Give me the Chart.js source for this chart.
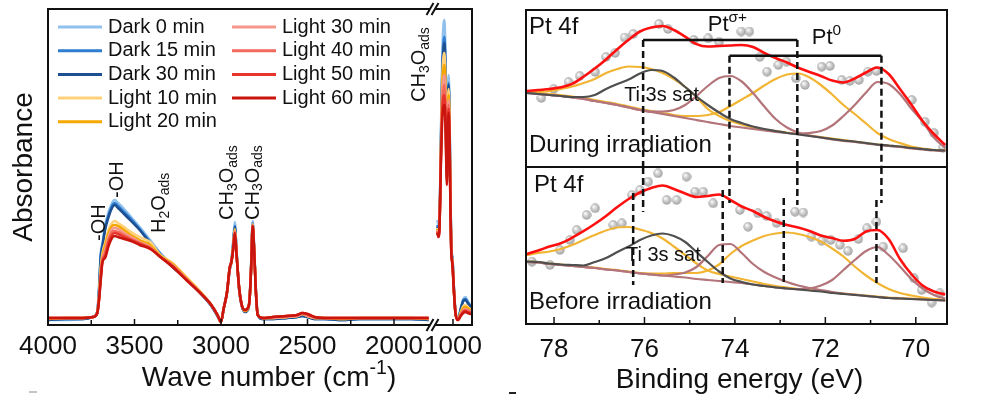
<!DOCTYPE html>
<html>
<head>
  <title>In situ FTIR and Pt 4f XPS</title>
  <meta charset="UTF-8">
  <script src="https://cdn.jsdelivr.net/npm/chart.js"></script>
  <style>
    body {
      margin: 0;
      background: #fff;
    }
    #wrap {
      position: relative;
      width: 986px;
      height: 398px;
    }
    #wrap canvas {
      position: absolute;
      left: 0;
      top: 0;
    }
  </style>
</head>
<body>
  <div id="wrap">
    <canvas id="irMain" width="986" height="398"></canvas>
    <canvas id="irSide" width="986" height="398"></canvas>
    <canvas id="xpsTop" width="986" height="398"></canvas>
    <canvas id="xpsBottom" width="986" height="398"></canvas>
  </div>

  <script>
    const FONT = '"Liberation Sans", Arial, Helvetica, sans-serif';

    // ---------- FTIR (absorbance, arbitrary units) ----------
    const wnMain = [4000, 3900, 3800, 3740, 3715, 3705, 3695, 3685, 3670, 3650, 3630, 3615, 3595, 3560, 3520, 3470, 3410, 3350, 3280, 3200, 3120, 3060, 3020, 3000, 2985, 2965, 2950, 2940, 2930, 2920, 2910, 2895, 2880, 2862, 2845, 2835, 2825, 2817, 2808, 2798, 2788, 2760, 2700, 2620, 2560, 2530, 2500, 2460, 2400, 2300, 2200, 2100, 2000, 1900, 1800];
    const dark0Main  = [5,5,6,8,14,40,72,82,100,113,122,125,122,116,108,98,85,72,60,47,33,21,10,3,16,34,57,65,84,103,75,36,20,14,16,26,66,104,78,35,12,6,6,7,8,10,8,6,6,5,6,6,6,6,5];
    const dark15Main = [5,6,6,8,13,35,70,80,97,110,119,122,119,113,106,96,83,71,59,46,32,20,9,3,16,33,55,63,80,99,73,35,19,13,15,25,63,102,75,33,11,6,6,7,8,9,8,6,6,5,6,6,6,6,5];
    const dark30Main = [5,6,6,8,13,33,68,78,95,108,117,120,117,111,104,95,82,70,58,46,32,20,9,3,16,33,55,63,79,98,72,35,19,13,15,25,62,101,74,33,11,6,6,7,8,9,8,6,6,5,6,6,6,6,5];
    const light10Main = [6,7,7,8,13,30,58,72,82,95,102,104,102,98,93,88,83,70,62,48,34,21,10,3,16,33,56,63,78,96,72,36,20,14,16,25,62,101,74,33,11,7,7,8,9,11,9,7,7,6,7,7,7,7,6];
    const light20Main = [6,7,7,8,13,28,55,69,79,92,99,100,99,95,90,85,80,69,61,47,33,21,10,3,16,33,56,63,77,95,71,36,20,14,16,25,61,100,74,33,11,7,7,8,9,11,9,7,7,6,7,7,7,7,6];
    const light30Main = [7,7,7,8,12,27,52,67,75,88,96,97,96,92,88,83,78,68,60,46,33,21,10,3,16,33,57,63,76,94,71,37,20,15,17,25,61,100,73,32,10,7,7,8,9,11,9,7,7,7,7,7,7,7,7];
    const light40Main = [7,7,7,8,12,26,49,65,72,85,93,94,93,90,86,82,77,68,59,46,32,21,10,3,16,33,57,63,76,93,70,37,20,15,17,25,60,99,73,32,10,7,8,9,10,12,10,8,7,7,7,7,7,7,7];
    const light50Main = [7,7,7,8,12,25,47,64,69,82,90,92,91,88,85,81,77,68,59,45,32,21,10,3,16,33,57,63,75,92,70,37,20,15,17,25,60,99,73,32,10,7,8,9,10,12,11,8,7,7,7,7,7,7,7];
    const light60Main = [7,7,7,8,12,25,45,63,67,79,87,89,88,86,84,80,76,68,58,45,32,21,10,3,16,33,57,63,75,92,70,37,20,15,17,25,60,99,73,32,10,7,8,9,10,12,11,8,7,7,7,7,7,7,7];

    const wnSide = [1091, 1084, 1078, 1070, 1062, 1055, 1050, 1045, 1040, 1035, 1030, 1025, 1020, 1015, 1010, 1003, 995, 985, 970, 955, 940, 928, 915, 900, 890];
    const dark0Side   = [105,100,108,190,270,300,305,285,225,185,230,250,215,140,80,68,40,12,6,17,26,28,24,20,18];
    const dark15Side  = [100,96,104,180,255,282,288,270,215,178,222,242,208,135,78,66,38,12,6,16,25,26,23,19,17];
    const dark30Side  = [98,95,102,175,250,276,282,265,212,175,220,240,206,133,77,65,37,12,6,16,24,25,22,19,17];
    const light10Side = [97,93,100,172,245,268,272,255,205,168,215,236,202,130,76,64,36,11,6,13,19,20,18,16,15];
    const light20Side = [96,92,100,170,238,256,260,245,198,162,210,230,198,128,75,63,36,11,6,12,17,18,17,15,14];
    const light30Side = [95,91,99,168,230,246,250,236,190,156,205,225,194,126,75,62,35,11,5,11,15,16,15,14,13];
    const light40Side = [94,90,99,166,222,236,240,226,183,150,200,220,190,124,74,62,35,11,5,10,14,15,14,13,12];
    const light50Side = [93,89,98,164,215,228,230,218,176,145,196,216,187,122,74,61,35,11,5,10,13,14,13,12,12];
    const light60Side = [92,88,98,160,205,218,220,210,170,140,192,212,184,120,73,60,35,11,5,9,12,13,12,11,11];

    const irLabels = ['Dark 0 min', 'Dark 15 min', 'Dark 30 min', 'Light 10 min', 'Light 20 min',
                      'Light 30 min', 'Light 40 min', 'Light 50 min', 'Light 60 min'];
    const irColors = ['#8fc1ec', '#2f7dd1', '#1d4f91', '#ffd17a', '#f6a800',
                      '#f5978b', '#f26a5c', '#e8352b', '#c9150d'];
    const irMainSeries = [dark0Main, dark15Main, dark30Main, light10Main, light20Main, light30Main, light40Main, light50Main, light60Main];
    const irSideSeries = [dark0Side, dark15Side, dark30Side, light10Side, light20Side, light30Side, light40Side, light50Side, light60Side];

    const irTicksMain = [4000, 3500, 3000, 2500, 2000];
    const irMinorMain = [3750, 3250, 2750, 2250];
    const irTicksSide = [1000];

    // ---------- XPS Pt 4f (counts, arbitrary units) ----------
    const energy = [78.6, 78.35, 78.1, 77.85, 77.6, 77.35, 77.1, 76.85, 76.6, 76.35, 76.1, 75.85, 75.6, 75.35, 75.1, 74.85, 74.6, 74.35, 74.1, 73.85, 73.6, 73.35, 73.1, 72.85, 72.6, 72.35, 72.1, 71.85, 71.6, 71.35, 71.1, 70.85, 70.6, 70.35, 70.1, 69.85, 69.6, 69.35];

    const duringEnvelope = [76,77,78,79.7,83.1,90.2,98.5,107.6,117.8,127.2,135.5,139.4,141,137,130.3,122.9,120.5,121,121.5,122,120,114,109,104.5,99.3,95,91,86.5,84.5,88.5,94.5,99.5,93,78,62.5,46,33,22];
    const duringPtIon1 = [75,75,76,78,80.5,84,88,94,98,100.5,100,98,94,88,80,70,58,51,46,42.5,39.5,37.5,36,34.5,33,31.5,30,28.5,27,25.5,24,22.5,21.5,20.5,19,18,17,16.5];
    const duringPtIon2 = [75,74,73,72,70.5,69,67,65,63,60.5,58,56,54,52,51,51,52,55,61,67.5,74,81.5,88,92.5,93.5,89.5,82,72.5,62,53,43.5,34,28,24,20.5,18.5,17,16.5];
    const duringPtMet1 = [74,73,72,71,69.5,68,66,64,62,59.5,57,55.5,55.5,57,62,71,81,89,91,85.5,74,60.5,48,39.5,34.5,31.5,29.5,27.5,26,25,23.5,22,21,20,18.5,17.5,16.5,16];
    const duringPtMet2 = [74,73,72,71,69.5,68,66,64,62,59.5,57,55,53,51,49,47,45,43,41,39.5,38,36.5,35,34,33.5,34,36,41.5,51,62,74.5,85,83,73,58.5,45.5,29.5,19];
    const duringTi3s = [74,73,72,71,70,70,72,78,83,87.5,93.5,97,96,89.5,80,70.5,62,54.5,48,44,40.5,38,36,34,32.5,31,29.5,28,26.5,25.5,24,22.5,21.5,20.5,19,18,17,16.5];
    const duringRawE = [78.28,78.01,77.68,77.43,77.09,76.85,76.65,76.44,76.25,75.68,75.48,74.91,74.59,74.35,73.86,73.68,73.45,73.29,73.04,72.86,72.65,72.45,72.08,71.9,71.64,71.46,71.26,71.06,70.87,70.09,69.8,69.6,69.4];
    const duringRawI = [69,78,85,91,95,110,114,129.5,133,143,138,127,128.7,125,135.5,135.5,110,95.3,102,105.3,88.7,82,100.3,101,87,86,87,95.3,96,67,45.3,34,19.5];

    const beforeEnvelope = [70,73.5,77.5,80.8,86.3,92.8,100,108,117,125,131.5,136,138.5,135,130.5,127,128,129.5,124,117.5,113,107,102.5,99,96.5,93,88.5,86,83.3,85,92.5,94,85,65,50,38.5,32.5,29.5];
    const beforePtIon1 = [69,71,72.5,75,79,84,89,93.5,96.5,97,94.5,91,85.5,77.5,69,60.5,53.5,50,47.5,45,42.5,40,38,36.5,35,34,33,31.5,30.5,29.5,28.5,27.5,26.5,26,25.5,25,24.5,24];
    const beforePtIon2 = [62.5,62,60.5,59.5,58.5,57.5,56.5,55,54,52.5,51,50.5,50.5,51,51,51,53.5,59.5,70,78,83.5,88,90.5,91.5,90,87,82.5,75.5,67.5,57.5,48.5,41,35,31,28.5,26.5,25,24];
    const beforePtMet1 = [62,61.5,60,59,58,57,56,54.5,53.5,52,50.5,49.5,48.5,49.5,51.5,57,68,79,80,71,60,52,46.5,42,38.5,36,34,32,30.5,29.3,28.2,27,26,25.5,25,24.5,24,23.5];
    const beforePtMet2 = [62,61.5,60,59,58,57,56,54.5,53.5,52,50.5,49.5,48.5,47.5,46.5,45,44,43,42,41,39.5,38,36.5,35.5,34.8,35.5,38.5,44,54,64,73,77,69,57.5,45,35.5,29,25.5];
    const beforeTi3s = [62.5,62,60.5,59.5,59,58.5,62,66,72,77.5,84,88.5,90.5,88,82,72,62,52.5,45.5,42,39.5,38,36.5,35.5,34.5,33.5,32.5,31,30,29,28,27,26,25.5,25,24.5,24,23.5];
    const beforeRawE = [78.49,78.09,77.87,77.65,77.5,77.28,77.09,76.69,76.5,76.28,76.1,75.92,75.7,75.51,75.29,75.07,74.88,74.7,74.48,73.89,73.71,73.49,73.3,73.08,72.67,72.49,72.31,72.08,71.88,71.68,71.5,71.27,71.08,70.87,70.72,70.28,70.04,69.87,69.65,69.47];
    const beforeRawI = [62.3,59,74,84,94,109,115.7,99,100.7,129,134,142.3,150.7,124,124,147.3,132.3,132.3,120.7,114,97.3,110.7,108,101,112.3,111.5,87.3,83.2,84,79,73,85,95.7,102.3,77.3,75.7,45.7,34,21.5,30.7];

    const xpsTicks = [78, 76, 74, 72, 70];
    const xpsMinor = [77, 75, 73, 71];

    // peak markers: energies of dashed lines
    const duringPeaks = [76.03, 74.12, 72.62, 70.76];
    const beforePeaks = [76.25, 74.27, 72.92, 70.87];

    // ---------- helpers ----------
    function richWidth(ctx, parts, size) {
      let w = 0;
      parts.forEach(p => {
        ctx.font = (p.s ? size * 0.7 : size) + 'px ' + FONT;
        w += ctx.measureText(p.t).width;
      });
      return w;
    }

    function drawRich(ctx, parts, x, y, size, opts) {
      opts = opts || {};
      ctx.save();
      ctx.translate(x, y);
      if (opts.rotate) ctx.rotate(-Math.PI / 2);
      ctx.fillStyle = opts.color || '#111';
      ctx.textBaseline = 'middle';
      ctx.textAlign = 'left';
      let cx = opts.center ? -richWidth(ctx, parts, size) / 2 : 0;
      parts.forEach(p => {
        const fs = p.s ? size * 0.7 : size;
        ctx.font = fs + 'px ' + FONT;
        const dy = p.s < 0 ? size * 0.28 : p.s > 0 ? -size * 0.32 : 0;
        ctx.fillText(p.t, cx, dy);
        cx += ctx.measureText(p.t).width;
      });
      ctx.restore();
    }

    function lineSet(label, color, xs, ys, order, width) {
      return {
        label: label,
        data: xs.map((x, i) => ({ x: x, y: ys[i] })),
        borderColor: color,
        backgroundColor: color,
        borderWidth: width || 2.5,
        pointRadius: 0,
        fill: false,
        cubicInterpolationMode: 'monotone',
        order: order
      };
    }

    function makeSphere(d) {
      const c = document.createElement('canvas');
      c.width = c.height = d;
      const g = c.getContext('2d');
      const r = d / 2;
      const grad = g.createRadialGradient(r * 0.7, r * 0.65, 0.5, r, r, r);
      grad.addColorStop(0, '#fbfbfb');
      grad.addColorStop(0.45, '#cdcdcd');
      grad.addColorStop(1, '#9d9d9d');
      g.fillStyle = grad;
      g.beginPath();
      g.arc(r, r, r - 0.3, 0, Math.PI * 2);
      g.fill();
      return c;
    }
    const sphere = makeSphere(10);

    function rawSet(xs, ys) {
      return {
        data: xs.map((x, i) => ({ x: x, y: ys[i] })),
        showLine: false,
        pointStyle: sphere,
        pointRadius: 5,
        order: 10
      };
    }

    function baseOptions(pad, xMin, xMax, yMax) {
      return {
        responsive: false,
        animation: false,
        events: [],
        layout: { padding: pad },
        plugins: { legend: { display: false }, tooltip: { enabled: false } },
        scales: {
          x: { type: 'linear', reverse: true, min: xMin, max: xMax, display: false },
          y: { min: 0, max: yMax, display: false }
        }
      };
    }

    function drawTicks(ctx, chart, major, minor, majLen, minLen) {
      const xs = chart.scales.x, a = chart.chartArea;
      ctx.beginPath();
      major.forEach(v => {
        const x = xs.getPixelForValue(v);
        ctx.moveTo(x, a.bottom); ctx.lineTo(x, a.bottom - majLen);
      });
      minor.forEach(v => {
        const x = xs.getPixelForValue(v);
        ctx.moveTo(x, a.bottom); ctx.lineTo(x, a.bottom - minLen);
      });
      ctx.stroke();
    }

    function drawTickLabels(ctx, chart, major, dy) {
      const xs = chart.scales.x, a = chart.chartArea;
      ctx.fillStyle = '#111';
      ctx.font = '26px ' + FONT;
      ctx.textAlign = 'center';
      ctx.textBaseline = 'middle';
      major.forEach(v => ctx.fillText(String(v), xs.getPixelForValue(v), a.bottom + dy));
    }

    // ---------- FTIR, main segment ----------
    const irNotes = [
      { parts: [{ t: '-OH' }], wn: 3702, val: 84 },
      { parts: [{ t: '-OH' }], wn: 3601, val: 127 },
      { parts: [{ t: 'H' }, { t: '2', s: -1 }, { t: 'O' }, { t: 'ads', s: -1 }], wn: 3353, val: 92 },
      { parts: [{ t: 'CH' }, { t: '3', s: -1 }, { t: 'O' }, { t: 'ads', s: -1 }], wn: 2965, val: 105 },
      { parts: [{ t: 'CH' }, { t: '3', s: -1 }, { t: 'O' }, { t: 'ads', s: -1 }], wn: 2815, val: 105 },
      { parts: [{ t: 'CH' }, { t: '3', s: -1 }, { t: 'O' }, { t: 'ads', s: -1 }], wn: 1850, val: 223 }
    ];

    const irMainDeco = {
      id: 'irMainDeco',
      afterDraw(chart) {
        const ctx = chart.ctx, a = chart.chartArea, xs = chart.scales.x, ys = chart.scales.y;
        ctx.save();
        ctx.strokeStyle = '#111';
        ctx.lineWidth = 2;
        ctx.beginPath();
        ctx.moveTo(a.right, a.top); ctx.lineTo(a.left, a.top);
        ctx.lineTo(a.left, a.bottom); ctx.lineTo(a.right, a.bottom);
        ctx.stroke();
        ctx.lineWidth = 1.5;
        drawTicks(ctx, chart, irTicksMain, irMinorMain, 6, 5);
        drawTickLabels(ctx, chart, irTicksMain, 22);

        drawRich(ctx, [{ t: 'Wave number (cm' }, { t: '-1', s: 1 }, { t: ')' }], a.left + 221, a.bottom + 53, 28, { center: true });
        drawRich(ctx, [{ t: 'Absorbance' }], a.left - 24, (a.top + a.bottom) / 2, 28, { rotate: true, center: true });

        // legend
        chart.data.datasets.forEach((ds, i) => {
          const col = i < 5 ? 0 : 1, row = i < 5 ? i : i - 5;
          const x0 = a.left + 10 + col * 174, y = a.top + 18 + row * 23.7;
          ctx.strokeStyle = ds.borderColor;
          ctx.lineWidth = 3;
          ctx.beginPath(); ctx.moveTo(x0, y); ctx.lineTo(x0 + 44, y); ctx.stroke();
          drawRich(ctx, [{ t: ds.label }], x0 + 50, y, 20);
        });

        irNotes.forEach(n => {
          drawRich(ctx, n.parts, xs.getPixelForValue(n.wn), ys.getPixelForValue(n.val), 20, { rotate: true });
        });

        // stray mark below the axis title
        ctx.fillStyle = '#c4c4c4';
        ctx.fillRect(a.left - 19, a.bottom + 66, 8, 2);
        ctx.restore();
      }
    };

    new Chart(document.getElementById('irMain'), {
      type: 'line',
      data: {
        datasets: irMainSeries.map((s, i) => lineSet(irLabels[i], irColors[i], wnMain, s, 8 - i))
      },
      options: baseOptions({ left: 48, top: 9, right: 551, bottom: 73 }, 1763, 4000, 316),
      plugins: [irMainDeco]
    });

    // ---------- FTIR, segment after the break ----------
    const irSideDeco = {
      id: 'irSideDeco',
      afterDraw(chart) {
        const ctx = chart.ctx, a = chart.chartArea;
        ctx.save();
        ctx.strokeStyle = '#111';
        ctx.lineWidth = 2;
        ctx.beginPath();
        ctx.moveTo(a.left, a.top); ctx.lineTo(a.right, a.top);
        ctx.lineTo(a.right, a.bottom); ctx.lineTo(a.left, a.bottom);
        ctx.stroke();
        ctx.lineWidth = 1.5;
        drawTicks(ctx, chart, irTicksSide, [], 6, 4);
        drawTickLabels(ctx, chart, irTicksSide, 22);

        // axis break marks
        [a.top, a.bottom].forEach(y => {
          const cx = a.left - 2;
          ctx.fillStyle = '#fff';
          ctx.fillRect(cx - 3, y - 2.5, 5, 5);
          ctx.strokeStyle = '#111';
          ctx.lineWidth = 2;
          ctx.beginPath();
          [cx - 3, cx + 2].forEach(sx => { ctx.moveTo(sx - 3.5, y + 6); ctx.lineTo(sx + 3.5, y - 6); });
          ctx.stroke();
        });
        ctx.restore();
      }
    };

    new Chart(document.getElementById('irSide'), {
      type: 'line',
      data: {
        datasets: irSideSeries.map((s, i) => lineSet(irLabels[i], irColors[i], wnSide, s, 8 - i))
      },
      options: baseOptions({ left: 435, top: 9, right: 514, bottom: 73 }, 890, 1104, 316),
      plugins: [irSideDeco]
    });

    // ---------- XPS colours ----------
    const cEnv = '#ff1010', cIon = '#f1b533', cMet = '#b3747a', cTi = '#4f4f4f';

    function xpsSets(env, ion1, ion2, met1, met2, ti, rawE, rawI) {
      return [
        rawSet(rawE, rawI),
        lineSet('Pt ion 1', cIon, energy, ion1, 4, 2.2),
        lineSet('Pt ion 2', cIon, energy, ion2, 4, 2.2),
        lineSet('Pt0 1', cMet, energy, met1, 3, 2.2),
        lineSet('Pt0 2', cMet, energy, met2, 3, 2.2),
        lineSet('Ti 3s sat', cTi, energy, ti, 2, 2.2),
        lineSet('Envelope', cEnv, energy, env, 0, 2.6)
      ];
    }

    function drawDashed(ctx, x, y1, y2) {
      ctx.save();
      ctx.setLineDash([7, 4]);
      ctx.lineWidth = 2.5;
      ctx.strokeStyle = '#111';
      ctx.beginPath(); ctx.moveTo(x, y1); ctx.lineTo(x, y2); ctx.stroke();
      ctx.restore();
    }

    // ---------- XPS, during irradiation ----------
    const bracketLevels = [127, 111.3];
    let topChart = null;

    const xpsTopDeco = {
      id: 'xpsTopDeco',
      afterDraw(chart) {
        const ctx = chart.ctx, a = chart.chartArea, xs = chart.scales.x, ys = chart.scales.y;
        ctx.save();
        ctx.strokeStyle = '#111';
        ctx.lineWidth = 2;
        ctx.strokeRect(a.left, a.top, a.right - a.left, a.bottom - a.top);

        // brackets Pt(sigma+) and Pt0 with dashed drops
        const px = duringPeaks.map(e => xs.getPixelForValue(e));
        ctx.lineWidth = 2.5;
        [[0, 2, 0], [1, 3, 1]].forEach(([i, j, k]) => {
          const y = ys.getPixelForValue(bracketLevels[k]);
          ctx.beginPath(); ctx.moveTo(px[i], y); ctx.lineTo(px[j], y); ctx.stroke();
          drawDashed(ctx, px[i], y, a.bottom);
          drawDashed(ctx, px[j], y, a.bottom);
        });

        drawRich(ctx, [{ t: 'Pt 4f' }], a.left + 3, a.top + 17, 24);
        drawRich(ctx, [{ t: 'During irradiation' }], a.left + 3, a.bottom - 22, 24);
        drawRich(ctx, [{ t: 'Ti 3s sat' }], xs.getPixelForValue(76.45), ys.getPixelForValue(72), 20);
        drawRich(ctx, [{ t: 'Pt' }, { t: 'σ+', s: 1 }], xs.getPixelForValue(74.6), ys.getPixelForValue(142), 22);
        drawRich(ctx, [{ t: 'Pt' }, { t: '0', s: 1 }], xs.getPixelForValue(72.3), ys.getPixelForValue(129), 22);
        ctx.restore();
      }
    };

    topChart = new Chart(document.getElementById('xpsTop'), {
      type: 'line',
      data: {
        datasets: xpsSets(duringEnvelope, duringPtIon1, duringPtIon2, duringPtMet1, duringPtMet2, duringTi3s, duringRawE, duringRawI)
      },
      options: baseOptions({ left: 526, top: 10, right: 39, bottom: 231 }, 69.31, 78.62, 157),
      plugins: [xpsTopDeco]
    });

    // ---------- XPS, before irradiation ----------
    const carryEnds = [112, 121, 119, 121];
    const beforeDashTop = [131, 134, 126, 124];
    const beforeDashEnd = [39, 41, 42, 41];

    const xpsBottomDeco = {
      id: 'xpsBottomDeco',
      afterDraw(chart) {
        const ctx = chart.ctx, a = chart.chartArea, xs = chart.scales.x, ys = chart.scales.y;
        ctx.save();
        ctx.strokeStyle = '#111';
        ctx.lineWidth = 2;
        ctx.beginPath();
        ctx.moveTo(a.left, a.top); ctx.lineTo(a.left, a.bottom);
        ctx.lineTo(a.right, a.bottom); ctx.lineTo(a.right, a.top);
        ctx.stroke();
        ctx.lineWidth = 1.5;
        drawTicks(ctx, chart, xpsTicks, xpsMinor, 7, 4);
        drawTickLabels(ctx, chart, xpsTicks, 26);
        drawRich(ctx, [{ t: 'Binding energy (eV)' }], (a.left + a.right) / 2 + 3, a.bottom + 56, 28, { center: true });

        // dashed lines carried down from the upper panel
        duringPeaks.forEach((e, i) => drawDashed(ctx, xs.getPixelForValue(e), a.top, ys.getPixelForValue(carryEnds[i])));
        beforePeaks.forEach((e, i) => drawDashed(ctx, xs.getPixelForValue(e), ys.getPixelForValue(beforeDashTop[i]), ys.getPixelForValue(beforeDashEnd[i])));

        drawRich(ctx, [{ t: 'Pt 4f' }], a.left + 8, a.top + 18, 24);
        drawRich(ctx, [{ t: 'Before irradiation' }], a.left + 3, a.bottom - 22, 24);
        drawRich(ctx, [{ t: 'Ti 3s sat' }], xs.getPixelForValue(76.41), ys.getPixelForValue(69), 20);

        // stray dash left of the axis title
        ctx.fillStyle = '#222';
        ctx.fillRect(a.left - 17, a.bottom + 68, 7, 2);
        ctx.restore();
      }
    };

    new Chart(document.getElementById('xpsBottom'), {
      type: 'line',
      data: {
        datasets: xpsSets(beforeEnvelope, beforePtIon1, beforePtIon2, beforePtMet1, beforePtMet2, beforeTi3s, beforeRawE, beforeRawI)
      },
      options: baseOptions({ left: 526, top: 167, right: 39, bottom: 74 }, 69.31, 78.62, 157),
      plugins: [xpsBottomDeco]
    });
  </script>
</body>
</html>
